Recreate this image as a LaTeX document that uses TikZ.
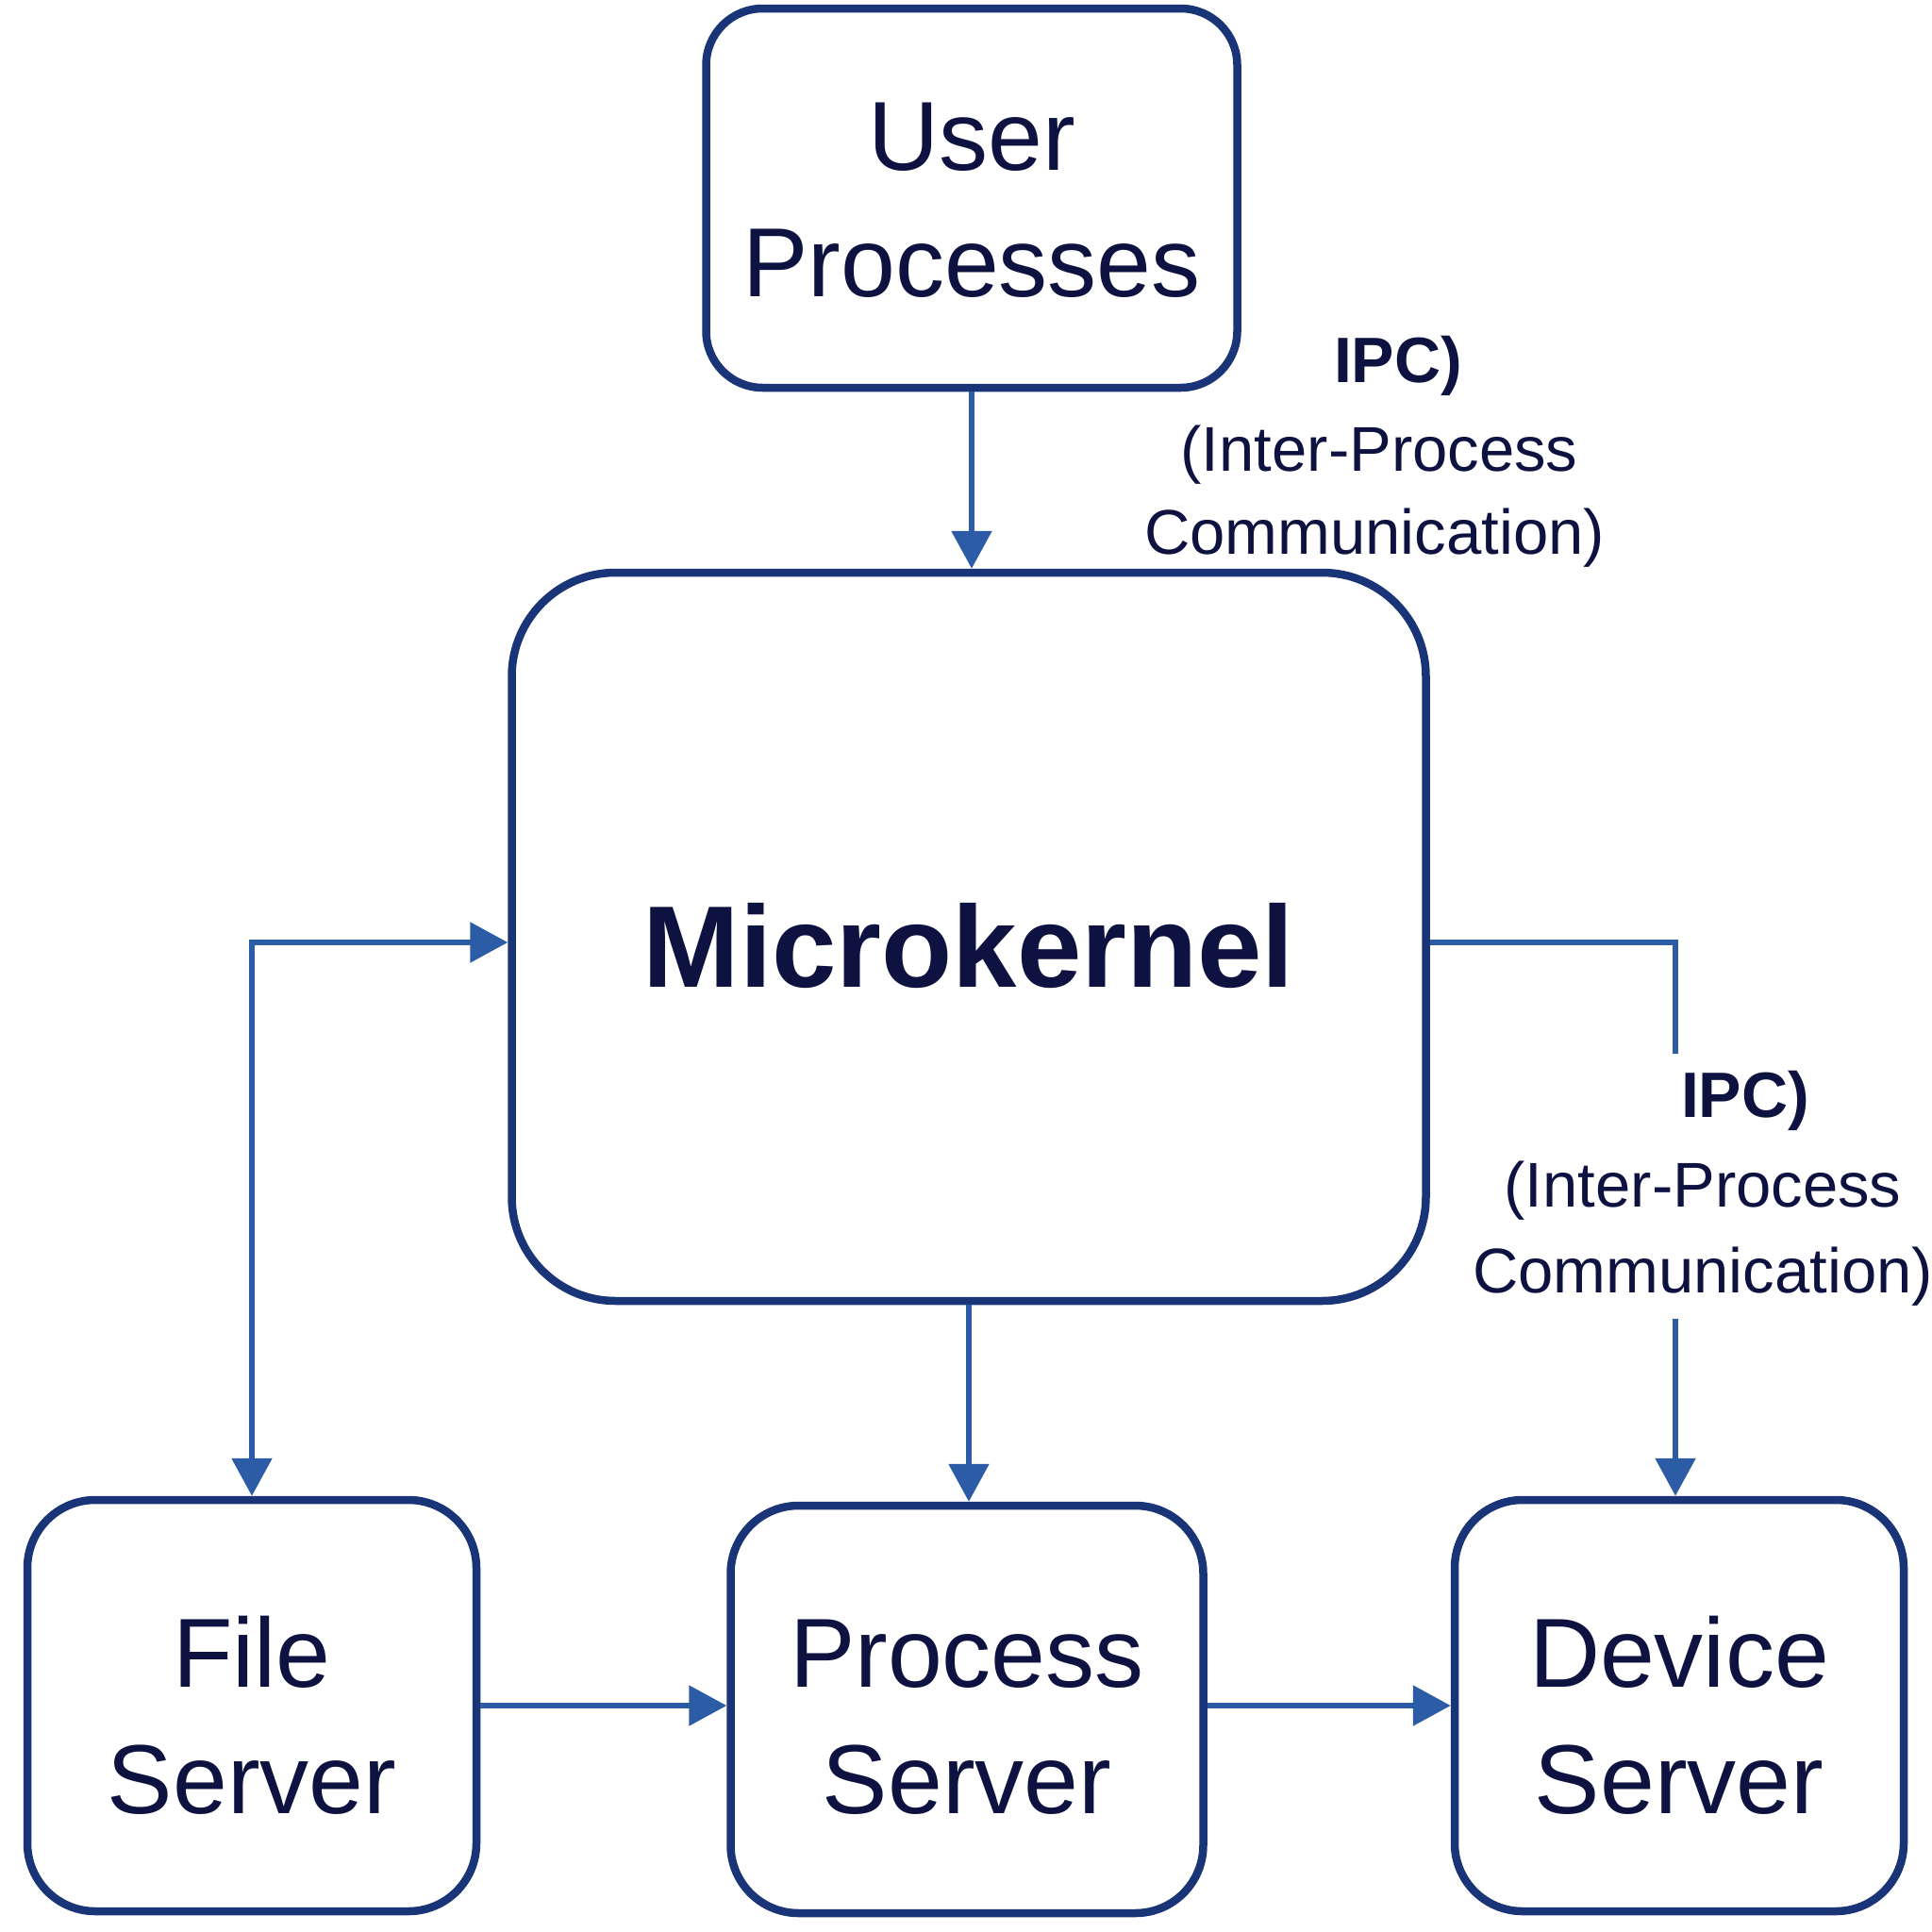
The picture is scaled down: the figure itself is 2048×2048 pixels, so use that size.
\documentclass[tikz,border=0pt]{standalone}
\usepackage{fontspec}
\setmainfont{Liberation Sans}
\usetikzlibrary{arrows.meta}
\definecolor{boxc}{HTML}{1A3478}
\definecolor{arrc}{HTML}{2D5CA6}
\definecolor{txtc}{HTML}{0E1240}
\tikzset{
  box/.style={draw=boxc, line width=8.5pt, rounded corners=#1, inner sep=0pt},
  boxtext/.style={align=center, text=txtc, inner sep=0pt, font=\fontsize{104}{134}\selectfont},
  arr/.style={draw=arrc, line width=5.5pt, -{Triangle[length=40pt,width=42pt]}},
  lbl/.style={text=txtc, inner sep=0pt, font=\fontsize{67}{80}\selectfont},
  lblb/.style={text=txtc, inner sep=0pt, font=\bfseries\fontsize{68}{80}\selectfont}
}
\begin{document}
\begin{tikzpicture}[x=1pt,y=-1pt]
\useasboundingbox[fill=white] (0,0) rectangle (2048,2048);
\node[box=60pt, minimum width=563pt, minimum height=402pt] (user) at (1030,210) {};
\node[box=110pt, minimum width=969pt, minimum height=772pt] (micro) at (1027,993) {};
\node[box=72pt, minimum width=476pt, minimum height=436pt] (file) at (267,1808) {};
\node[box=72pt, minimum width=501pt, minimum height=432pt] (proc) at (1025,1812) {};
\node[box=72pt, minimum width=476pt, minimum height=436pt] (dev) at (1780,1808) {};

\node[boxtext] (userT) at ([yshift=-2pt]user.center) {User\\Processes};
\node[boxtext, font=\bfseries\fontsize{123}{140}\selectfont] (microT) at ([yshift=-10pt]micro.center) {Microkernel};
\node[boxtext] (fileT) at ([yshift=-10pt]file.center) {File\\Server};
\node[boxtext] (procT) at ([yshift=-8pt]proc.center) {Process\\Server};
\node[boxtext] (devT) at ([yshift=-10pt]dev.center) {Device\\Server};

\node[lblb] (ipcA) at (1482,388) {IPC)};
\node[lbl] (ipcAb) at (1462,482) {(Inter-Process};
\node[lbl] (ipcAc) at (1457,570) {Communication)};
\node[lblb] (ipcB) at (1850,1167) {IPC)};
\node[lbl] (ipcBb) at (1805,1262) {(Inter-Process};
\node[lbl] (ipcBc) at (1805,1353) {Communication)};

\coordinate (gapTop) at (1776,1117);
\coordinate (gapBot) at (1776,1398);

\draw[arr] (user.south) -- (user.south |- micro.north);
\draw[arr, {Triangle[length=40pt,width=42pt]}-{Triangle[length=40pt,width=42pt]}] (file.north) |- ([yshift=-6pt]micro.west);
\draw[arr] (micro.south) -- (micro.south |- proc.north);
\draw[draw=arrc, line width=5.5pt] ([yshift=-6pt]micro.east) -| (gapTop);
\draw[arr] (gapBot) -- (gapBot |- dev.north);
\draw[arr] (file.east) -- (file.east -| proc.west);
\draw[arr] (proc.east |- file.east) -- (file.east -| dev.west);
\end{tikzpicture}
\end{document}
